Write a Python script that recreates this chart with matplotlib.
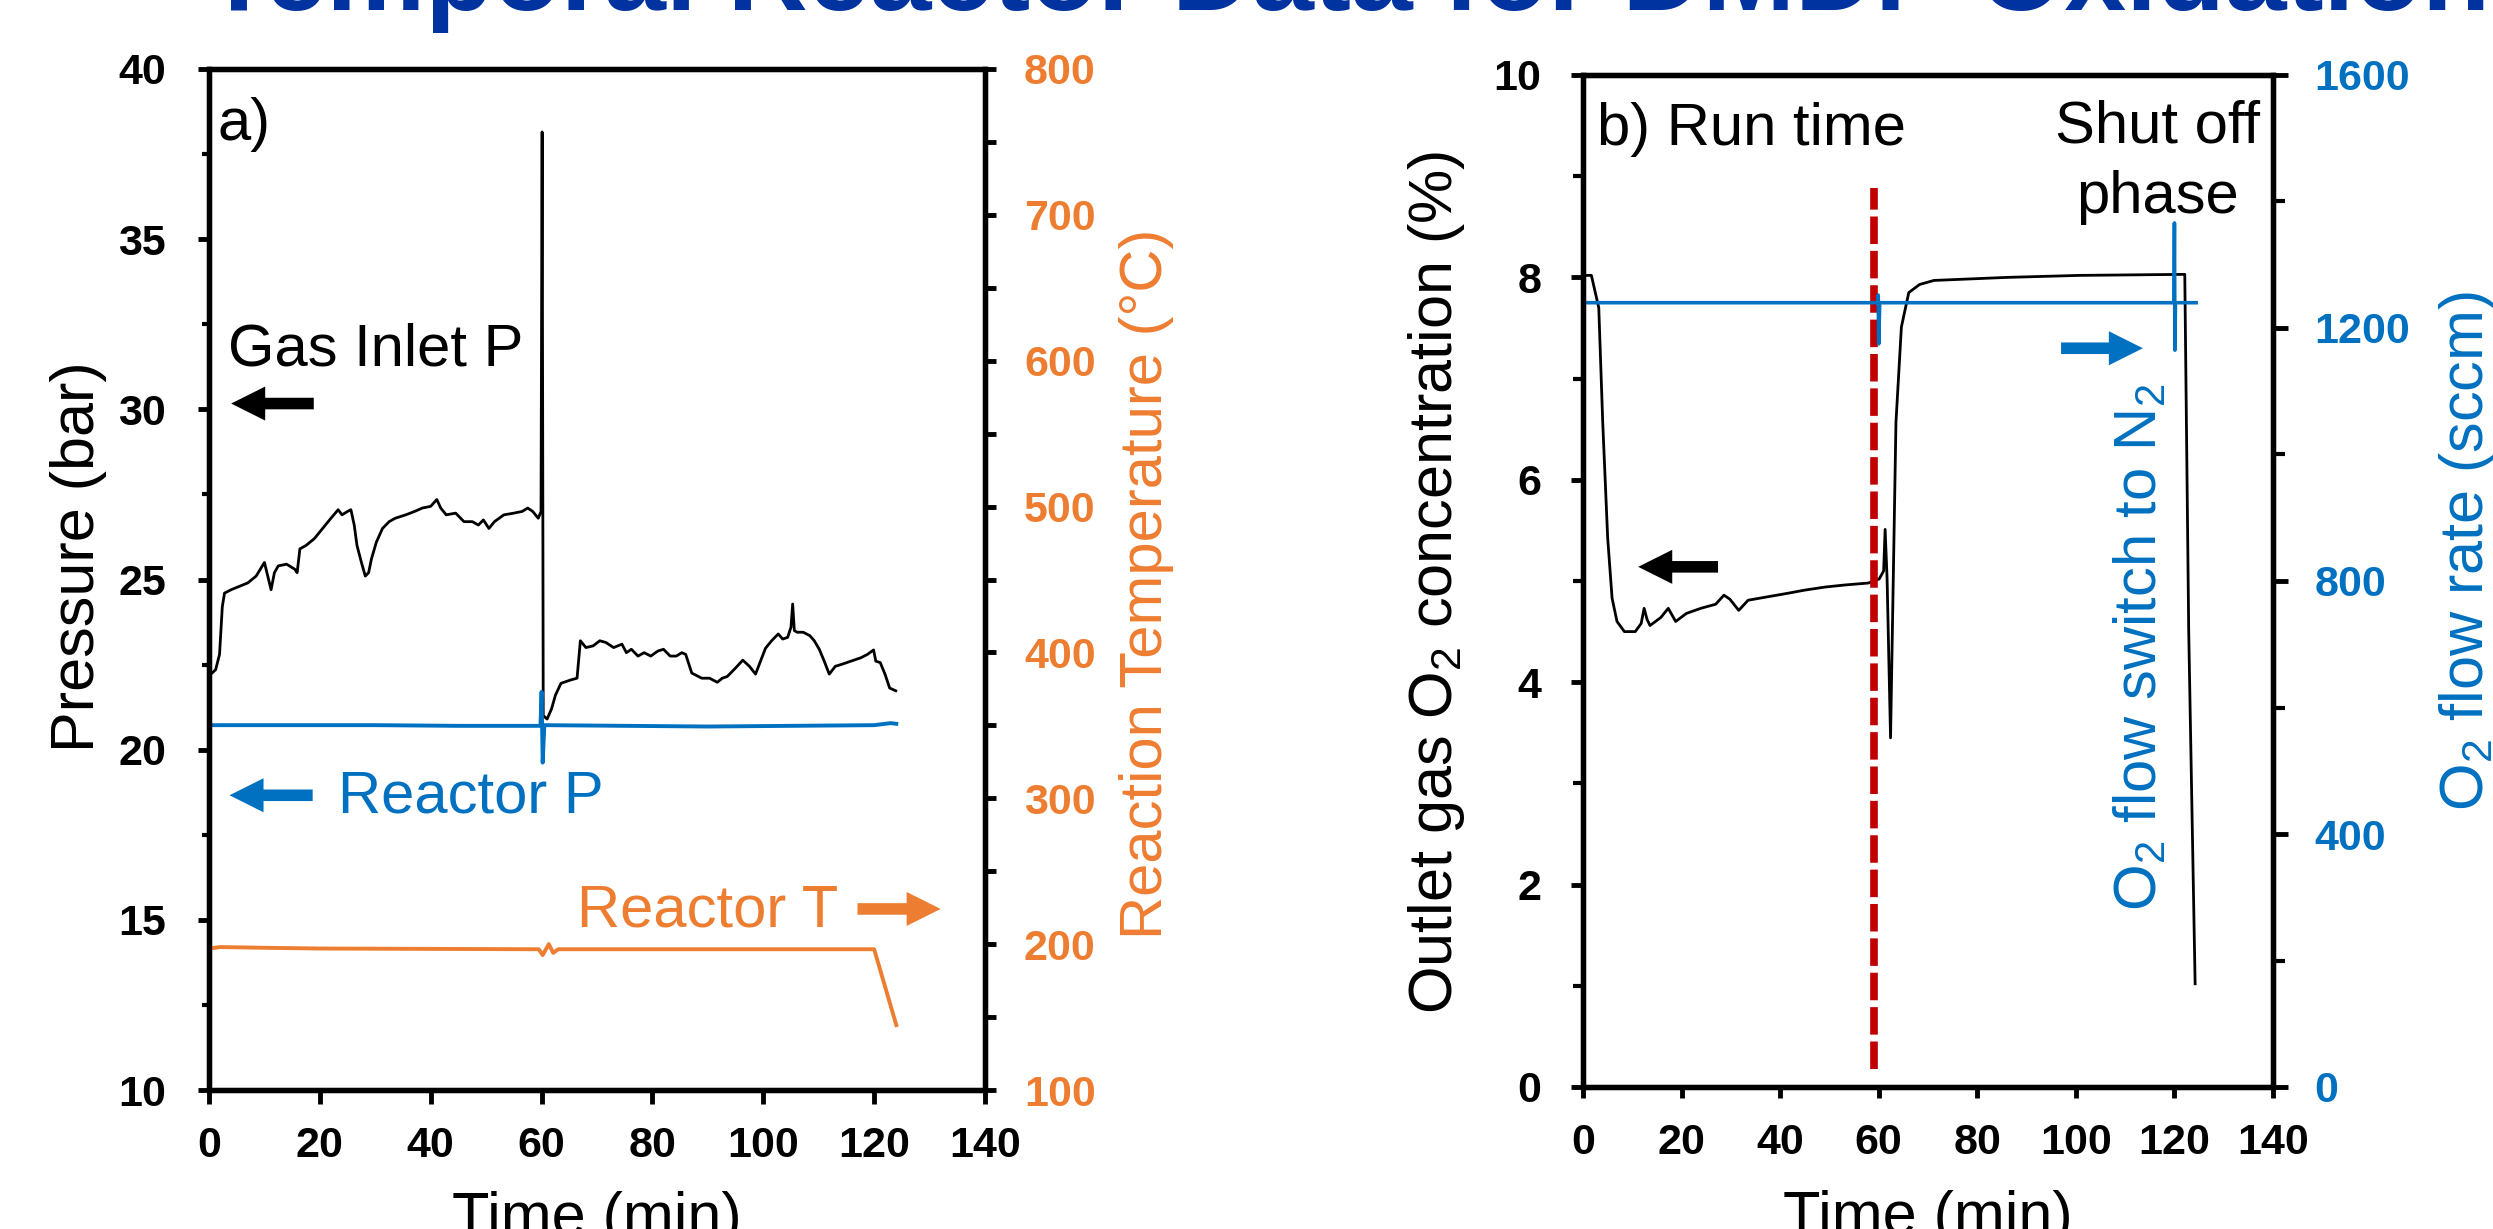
import matplotlib.pyplot as plt
from matplotlib.ticker import MultipleLocator

plt.rcParams['font.family'] = ['Liberation Sans', 'DejaVu Sans']
plt.rcParams['font.weight'] = 'bold'
plt.rcParams['mathtext.default'] = 'regular'

W, H = 2493, 1229

BLUE = '#0070C0'
ORANGE = '#ED7D31'
RED = '#C00000'
TITLE_BLUE = '#0033A0'

title = 'Temporal Reactor Data for DMDP Oxidation'

# panel a: gas inlet pressure (bar)
t_inlet = [0.2, 1.2, 1.9, 2.4, 2.8, 4.0, 5.5, 7.0, 8.5, 10.0, 10.6, 11.2, 11.8, 12.5, 14.0,
           15.5, 15.9, 16.4, 17.5, 19.0, 20.5, 22.0, 23.3, 24.0, 25.0, 25.6, 26.2, 26.7,
           27.5, 28.2, 28.8, 29.3, 30.2, 31.3, 32.5, 33.6, 35.5, 37.1, 38.5, 40.0, 41.1,
           41.8, 42.8, 44.5, 46.0, 47.5, 48.6, 49.5, 50.5, 51.5, 53.2, 55.0, 56.5, 57.5,
           58.4, 59.4, 59.9, 60.1, 60.3, 61.0, 61.8, 62.5, 63.5, 65.3, 66.4, 67.0, 68.0,
           69.3, 70.5, 71.6, 73.0, 74.5, 75.3, 76.2, 77.4, 78.5, 79.7, 81.0, 82.0, 83.2,
           84.3, 85.3, 86.0, 87.1, 88.9, 90.3, 91.7, 92.6, 93.5, 95.0, 96.3, 97.5, 98.6,
           99.5, 100.4, 101.5, 102.7, 103.5, 104.4, 105.0, 105.3, 105.6, 106.1, 107.2,
           108.4, 109.2, 110.1, 111.0, 111.9, 113.0, 114.2, 115.8, 117.6, 118.8, 119.9,
           120.3, 121.1, 122.0, 122.8, 123.9]
p_inlet = [22.2, 22.35, 22.8, 24.2, 24.6, 24.7, 24.8, 24.9, 25.1, 25.5, 25.1, 24.7, 25.2,
           25.4, 25.45, 25.3, 25.2, 25.9, 26.0, 26.2, 26.5, 26.8, 27.05, 26.9, 27.0, 27.05,
           26.6, 26.0, 25.5, 25.1, 25.2, 25.6, 26.1, 26.5, 26.7, 26.8, 26.9, 27.0, 27.1,
           27.15, 27.35, 27.1, 26.9, 26.95, 26.7, 26.7, 26.6, 26.75, 26.5, 26.7, 26.9,
           26.95, 27.0, 27.1, 27.0, 26.8, 27.0, 38.15, 21.0, 20.9, 21.2, 21.6, 21.95, 22.05,
           22.1, 23.2, 23.0, 23.05, 23.2, 23.15, 23.0, 23.1, 22.85, 22.95, 22.75, 22.85,
           22.75, 22.9, 22.95, 22.75, 22.75, 22.85, 22.8, 22.25, 22.1, 22.1, 21.98, 22.1,
           22.15, 22.4, 22.63, 22.45, 22.22, 22.6, 22.98, 23.2, 23.4, 23.25, 23.3, 23.6,
           24.28, 23.5, 23.45, 23.45, 23.35, 23.2, 22.95, 22.6, 22.22, 22.45, 22.51, 22.6,
           22.7, 22.8, 22.93, 22.6, 22.56, 22.2, 21.81, 21.73]

# panel a: reactor pressure (bar)
t_reactor_p = [0, 30, 45, 59.8, 60.0, 60.2, 60.5, 90, 120, 123, 124]
p_reactor = [20.72, 20.72, 20.70, 20.70, 21.7, 19.62, 20.72, 20.68, 20.72, 20.78, 20.76]

# panel a: reactor temperature (C)
t_reactor_t = [0, 2, 10, 20, 59.5, 60.2, 61.3, 62.1, 63, 120, 124]
temp_reactor = [197, 198, 197.5, 197, 196.5, 192.5, 200, 194, 196.5, 196.5, 144.5]

# panel b: outlet O2 concentration (%)
t_o2 = [0, 1.7, 3.2, 4.0, 5.0, 5.9, 6.9, 8.4, 10.6, 11.8, 12.4, 13.0, 13.6, 15.8, 17.3,
        18.8, 21.0, 23.9, 26.9, 28.6, 29.8, 31.6, 33.5, 37.0, 41.7, 45.0, 49.1, 53.0,
        57.9, 60.1, 61.0, 61.3, 61.7, 62.4, 63.5, 64.6, 66.1, 68.3, 71.2, 86.0, 100.8,
        122.1, 122.9, 124.2]
o2_conc = [8.02, 8.02, 7.70, 6.57, 5.43, 4.83, 4.60, 4.50, 4.50, 4.58, 4.73, 4.62, 4.56,
           4.64, 4.73, 4.60, 4.68, 4.73, 4.77, 4.86, 4.82, 4.71, 4.81, 4.84, 4.88, 4.91,
           4.94, 4.96, 4.98, 5.02, 5.1, 5.51, 5.02, 3.45, 6.57, 7.51, 7.85, 7.93, 7.97,
           8.0, 8.02, 8.03, 4.5, 1.02]

# panel b: O2 flow rate (sccm)
t_flow = [0, 59.8, 59.9, 60.0, 60.2, 119.9, 120.0, 120.1, 120.2, 124.4]
o2_flow = [1240, 1240, 1252, 1175, 1240, 1240, 1366, 1165, 1240, 1240]

run_end_time = 59.1
run_end_span = [0.18, 8.88]

# block arrows: (tail, tip, level, colour)
arrows_a = [(18.9, 4.0, 30.17, 'black'), (18.7, 3.7, 18.66, BLUE), (117.0, 132.0, 15.32, ORANGE)]
arrows_b = [(27.4, 11.2, 5.14, 'black'), (97.0, 113.6, 7.30, BLUE)]


def block_arrow(ax, x0, x1, y, color):
    ax.annotate('', xy=(x1, y), xytext=(x0, y),
                arrowprops=dict(arrowstyle='simple,head_length=1.0,head_width=1.0,tail_width=0.34',
                                mutation_scale=24.5, color=color, lw=0, shrinkA=0, shrinkB=0))


def style(ax):
    for s in ax.spines.values():
        s.set_linewidth(3.8)


fig = plt.figure(figsize=(W / 100, H / 100), dpi=100)
fig.text(205 / W, 1 - 10 / H, title, fontsize=80, weight='bold', color=TITLE_BLUE, va='baseline')

# ---- panel a
ax1 = fig.add_axes([209 / W, 1 - 1090 / H, 776 / W, 1021 / H])
ax1r = ax1.twinx()
ax1.plot(t_inlet, p_inlet, color='black', lw=2.0)
ax1.plot(t_reactor_p, p_reactor, color=BLUE, lw=2.8)
ax1r.plot(t_reactor_t, temp_reactor, color=ORANGE, lw=2.8)

ax1.set_xlim(0, 140)
ax1.set_ylim(10, 40)
ax1r.set_ylim(100, 800)
ax1.xaxis.set_major_locator(MultipleLocator(20))
ax1.yaxis.set_major_locator(MultipleLocator(5))
ax1.yaxis.set_minor_locator(MultipleLocator(2.5))
ax1r.yaxis.set_major_locator(MultipleLocator(100))
ax1r.yaxis.set_minor_locator(MultipleLocator(50))
ax1.tick_params(axis='x', which='major', length=10, width=3.5, labelsize=31, pad=16)
ax1.tick_params(axis='y', which='major', length=8, width=3.5, labelsize=31, pad=23)
ax1.tick_params(axis='y', which='minor', length=5, width=3)
ax1r.tick_params(axis='y', which='both', length=8, width=3.5, labelsize=31, pad=20, labelcolor=ORANGE)
style(ax1)
style(ax1r)

ax1.set_xlabel('Time (min)', fontsize=44, weight='normal')
ax1.xaxis.set_label_coords(0.5, -0.099)
ax1.set_ylabel('Pressure (bar)', fontsize=44, weight='normal', va='center')
ax1.yaxis.set_label_coords(-0.1688, 0.5225)
ax1r.set_ylabel('Reaction Temperature (°C)', fontsize=43, weight='normal', color=ORANGE, va='center')
ax1r.yaxis.set_label_coords(1.2075, 0.4956)

ax1.text(1.6, 37.91, 'a)', fontsize=43, weight='normal', va='baseline')
ax1.text(3.4, 31.30, 'Gas Inlet P', fontsize=43, weight='normal', va='baseline')
ax1.text(23.3, 18.15, 'Reactor P', fontsize=43, weight='normal', va='baseline', color=BLUE)
ax1.text(66.4, 14.79, 'Reactor T', fontsize=43, weight='normal', va='baseline', color=ORANGE)
for x0, x1, y, c in arrows_a:
    block_arrow(ax1, x0, x1, y, c)

# ---- panel b
ax2 = fig.add_axes([1583 / W, 1 - 1087 / H, 690 / W, 1012 / H])
ax2r = ax2.twinx()
ax2.plot(t_o2, o2_conc, color='black', lw=2.0)
ax2.plot([run_end_time, run_end_time], run_end_span, color=RED, lw=5.5,
         linestyle=(0, (3.6, 0.9)), dash_capstyle='butt')
ax2r.plot(t_flow, o2_flow, color=BLUE, lw=2.6)

ax2.set_xlim(0, 140)
ax2.set_ylim(0, 10)
ax2r.set_ylim(0, 1600)
ax2.xaxis.set_major_locator(MultipleLocator(20))
ax2.yaxis.set_major_locator(MultipleLocator(2))
ax2.yaxis.set_minor_locator(MultipleLocator(1))
ax2r.yaxis.set_major_locator(MultipleLocator(400))
ax2r.yaxis.set_minor_locator(MultipleLocator(200))
ax2.tick_params(axis='x', which='major', length=8, width=3.5, labelsize=31, pad=18)
ax2.tick_params(axis='y', which='major', length=9, width=3.5, labelsize=31, pad=21)
ax2.tick_params(axis='y', which='minor', length=7, width=3)
ax2r.tick_params(axis='y', which='major', length=11, width=3.5, labelsize=31, pad=19, labelcolor=BLUE)
ax2r.tick_params(axis='y', which='minor', length=8.5, width=3)
style(ax2)
style(ax2r)

ax2.set_xlabel('Time (min)', fontsize=44, weight='normal')
ax2.xaxis.set_label_coords(0.5, -0.1014)
ax2.set_ylabel('Outlet gas O$_2$ concentration (%)', fontsize=44, weight='normal', va='center')
ax2.yaxis.set_label_coords(-0.213, 0.499)
ax2r.set_ylabel('O$_2$ flow rate (sccm)', fontsize=44, weight='normal', color=BLUE, va='center')
ax2r.yaxis.set_label_coords(1.2826, 0.5296)

ax2.text(2.84, 9.31, 'b) Run time', fontsize=43, weight='normal', va='baseline')
ax2.text(116.5, 9.33, 'Shut off', fontsize=43, weight='normal', va='baseline', ha='center')
ax2.text(116.5, 8.64, 'phase', fontsize=43, weight='normal', va='baseline', ha='center')
ax2.text(113.2, 4.34, 'O$_2$ flow switch to N$_2$', fontsize=43, weight='normal', color=BLUE,
         rotation=90, ha='center', va='center')
for x0, x1, y, c in arrows_b:
    block_arrow(ax2, x0, x1, y, c)

fig.savefig('out.png', dpi=100)
